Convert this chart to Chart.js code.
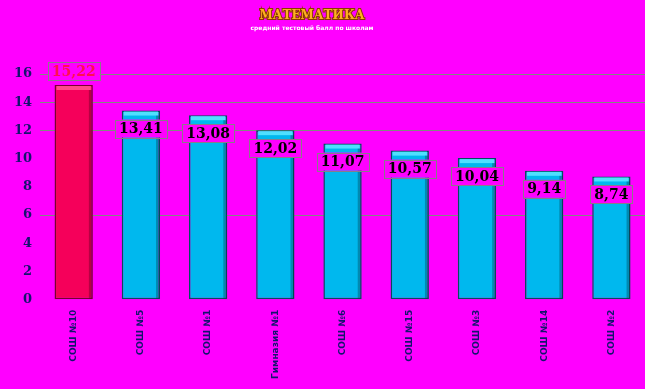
<!DOCTYPE html>
<html>
<head>
<meta charset="utf-8">
<script src="https://cdn.jsdelivr.net/npm/chart.js@4"></script>
<style>
  html, body { margin: 0; padding: 0; background: #ff00ff; }
  #wrap { width: 645px; height: 389px; position: relative; }
</style>
</head>
<body>
<div id="wrap"><canvas id="chart"></canvas></div>
<script>
// --- data ---
const schools = ['СОШ №10', 'СОШ №5', 'СОШ №1', 'Гимназия №1', 'СОШ №6', 'СОШ №15', 'СОШ №3', 'СОШ №14', 'СОШ №2'];
const scores = [15.22, 13.41, 13.08, 12.02, 11.07, 10.57, 10.04, 9.14, 8.74];
const yTicks = [0, 2, 4, 6, 8, 10, 12, 14, 16];
const gridAt = [6, 12, 14, 16];
const titleText = 'МАТЕМАТИКА';
const subtitleText = 'средний тестовый балл по школам';

const barFill = scores.map((v, i) => i === 0 ? '#f5005a' : '#00b8ee');
const barEdge = scores.map((v, i) => i === 0 ? '#7a0030' : '#00505e');
const capFill = scores.map((v, i) => i === 0 ? '#ff4a8a' : '#4fe0ff');

// title drawn on top of the canvas
const titlePlugin = {
    id: 'titlePlugin',
    afterDraw(c) {
        const ctx = c.ctx;
        ctx.save();
        ctx.textAlign = 'center';
        ctx.textBaseline = 'middle';
        ctx.font = 'bold 12px "DejaVu Serif"';
        ctx.lineWidth = 2;
        ctx.strokeStyle = '#8a3a00';
        ctx.strokeText(titleText, 312, 16);
        ctx.fillStyle = '#ffb020';
        ctx.fillText(titleText, 312, 16);
        ctx.font = 'bold 6px "DejaVu Sans"';
        ctx.fillStyle = '#ffffff';
        ctx.fillText(subtitleText, 312, 28);
        ctx.restore();
    }
};

// 3d-ish cap on every bar and the value boxes
const barDeco = {
    id: 'barDeco',
    afterDatasetsDraw(c) {
        const ctx = c.ctx;
        const meta = c.getDatasetMeta(0);
        ctx.save();
        meta.data.forEach((bar, i) => {
            const half = bar.width / 2;
            // top cap
            ctx.fillStyle = capFill[i];
            ctx.fillRect(bar.x - half + 2, bar.y + 1, bar.width - 4, 4);
            ctx.fillStyle = 'rgba(0,0,0,0.25)';
            ctx.fillRect(bar.x + half - 4, bar.y + 5, 3, bar.base - bar.y - 6);
        });
        // value labels
        ctx.font = 'bold 14px "DejaVu Serif"';
        ctx.textAlign = 'center';
        ctx.textBaseline = 'middle';
        meta.data.forEach((bar, i) => {
            const txt = scores[i].toFixed(2).replace('.', ',');
            const cy = i === 0 ? bar.y - 14 : bar.y + 18;
            const w = ctx.measureText(txt).width + 8;
            const h = 18;
            ctx.fillStyle = '#ff00ff';
            ctx.fillRect(bar.x - w / 2, cy - h / 2, w, h);
            ctx.strokeStyle = '#8a7a8a';
            ctx.lineWidth = 1;
            ctx.strokeRect(Math.round(bar.x - w / 2) + 0.5, Math.round(cy - h / 2) + 0.5, Math.round(w), h);
            ctx.fillStyle = i === 0 ? '#ff1050' : '#000000';
            ctx.fillText(txt, bar.x, cy + 1);
        });
        ctx.restore();
    }
};

function init() {
    const ctx = document.getElementById('chart').getContext('2d');
    new Chart(ctx, {
        type: 'bar',
        data: {
            labels: schools,
            datasets: [{
                data: scores,
                backgroundColor: barFill,
                borderColor: barEdge,
                borderWidth: 1.5,
                borderSkipped: false,
                categoryPercentage: 1,
                barPercentage: 0.57
            }]
        },
        options: {
            responsive: true,
            maintainAspectRatio: false,
            animation: false,
            layout: { padding: { top: 74, right: 0, left: 6, bottom: 8 } },
            plugins: {
                legend: { display: false },
                tooltip: { enabled: false }
            },
            scales: {
                y: {
                    min: 0,
                    max: 16,
                    afterBuildTicks: axis => { axis.ticks = yTicks.map(v => ({ value: v })); },
                    border: { display: false },
                    grid: {
                        color: g => gridAt.includes(g.tick.value) ? '#808a80' : 'rgba(0,0,0,0)',
                        drawTicks: false
                    },
                    ticks: {
                        color: '#14146e',
                        padding: 8,
                        font: { family: 'DejaVu Serif', size: 13, weight: 'bold' }
                    }
                },
                x: {
                    border: { display: false },
                    grid: { display: false },
                    ticks: {
                        color: '#14146e',
                        minRotation: 90,
                        maxRotation: 90,
                        padding: 2,
                        font: { family: 'DejaVu Sans', size: 9, weight: 'bold' }
                    }
                }
            }
        },
        plugins: [titlePlugin, barDeco]
    });
}

window.onload = init;
</script>
</body>
</html>
